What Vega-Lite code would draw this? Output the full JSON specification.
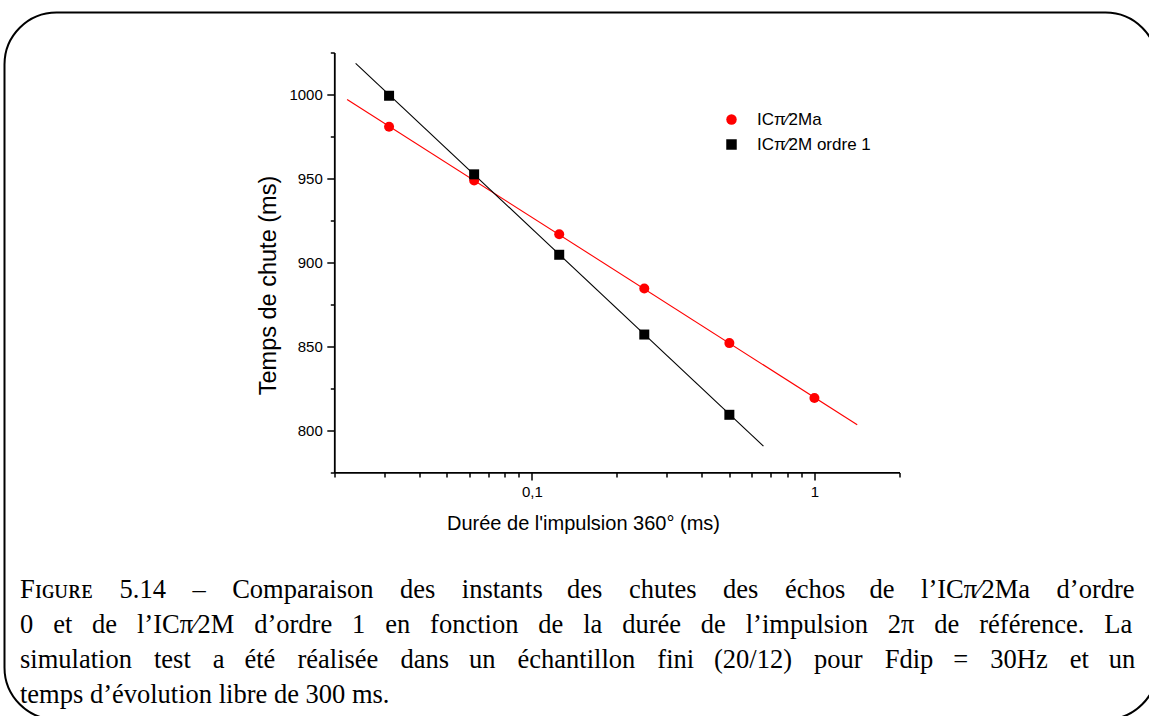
{
  "$schema": "https://vega.github.io/schema/vega-lite/v6.json",
  "width": 1153,
  "height": 707,
  "autosize": {"type": "none"},
  "padding": {"left": 4.5, "top": 12.5, "right": -8.5, "bottom": -3.5},
  "background": "white",
  "config": {
    "view": {"stroke": "black", "strokeWidth": 2, "cornerRadius": 52, "fill": "white"},
    "font": "Liberation Sans",
    "axis": {
      "grid": false,
      "domainColor": "black",
      "tickColor": "black",
      "labelColor": "black",
      "titleColor": "black",
      "labelFont": "Liberation Sans",
      "titleFont": "Liberation Sans",
      "titleFontWeight": "normal",
      "labelFontSize": 15,
      "domainWidth": 1.8,
      "tickWidth": 1.5
    },
    "legend": {
      "labelFont": "Liberation Sans",
      "labelFontSize": 17,
      "labelColor": "black"
    }
  },
  "title": {
    "text": [
      "Fɪɢᴜʀᴇ\u20035.14\u2003–\u2003Comparaison\u2003des\u2003instants\u2002 \u2006des\u2003chutes\u2003des\u2003échos\u2002 \u2006de\u2003l’ICπ⁄2Ma\u2003d’ordre",
      "0\u2002 et\u2002 de\u2002 l’ICπ⁄2M\u2002 d’ordre\u2002 1\u2002 en\u2002 fonction\u2002 de\u2002 la\u2002 durée\u2002 de\u2002 l’impulsion\u2002 2π\u2002 de\u2002 référence.\u2002 La",
      "simulation\u2002\u2004test\u2002\u2004a\u2002 été\u2002\u2004réalisée\u2002\u2004dans\u2002 un\u2002\u2004échantillon\u2002\u2004fini\u2002 (20/12)\u2002\u2004pour\u2002\u2004Fdip\u2002 =\u2002\u200430Hz\u2002\u2004et\u2002 un",
      "temps d’évolution libre de 300 ms."
    ],
    "orient": "top",
    "anchor": "start",
    "frame": "group",
    "align": "left",
    "baseline": "alphabetic",
    "offset": -716.5,
    "dx": 15.5,
    "lineHeight": 35,
    "font": "Liberation Serif",
    "fontSize": 26.5,
    "fontWeight": "normal",
    "color": "black"
  },
  "data": {
    "values": [
      {"kind": "pt", "serie": "ICπ⁄2Ma", "x": 0.03125, "y": 980.8},
      {"kind": "pt", "serie": "ICπ⁄2Ma", "x": 0.0625, "y": 948.9},
      {"kind": "pt", "serie": "ICπ⁄2Ma", "x": 0.125, "y": 916.8},
      {"kind": "pt", "serie": "ICπ⁄2Ma", "x": 0.25, "y": 884.5},
      {"kind": "pt", "serie": "ICπ⁄2Ma", "x": 0.5, "y": 852.0},
      {"kind": "pt", "serie": "ICπ⁄2Ma", "x": 1.0, "y": 819.3},
      {"kind": "pt", "serie": "ICπ⁄2M ordre 1", "x": 0.03125, "y": 999.3},
      {"kind": "pt", "serie": "ICπ⁄2M ordre 1", "x": 0.0625, "y": 952.5},
      {"kind": "pt", "serie": "ICπ⁄2M ordre 1", "x": 0.125, "y": 904.6},
      {"kind": "pt", "serie": "ICπ⁄2M ordre 1", "x": 0.25, "y": 857.1},
      {"kind": "pt", "serie": "ICπ⁄2M ordre 1", "x": 0.5, "y": 809.3},
      {"kind": "fit", "serie": "ICπ⁄2Ma", "x": 0.0222, "y": 997.1},
      {"kind": "fit", "serie": "ICπ⁄2Ma", "x": 1.417, "y": 803.4},
      {"kind": "fit", "serie": "ICπ⁄2M ordre 1", "x": 0.0238, "y": 1018.6},
      {"kind": "fit", "serie": "ICπ⁄2M ordre 1", "x": 0.66, "y": 790.7}
    ]
  },
  "layer": [
    {
      "transform": [{"filter": "datum.kind == 'fit' && datum.serie == 'ICπ⁄2Ma'"}],
      "mark": {"type": "line", "strokeWidth": 1.1, "clip": false, "color": "#ff0000"},
      "encoding": {
        "x": {
          "field": "x", "type": "quantitative",
          "scale": {"type": "log", "domain": [0.02, 2], "range": [329.8, 895], "nice": false},
          "axis": {
            "orient": "bottom", "offset": -247.1, "domain": false, "labels": false, "title": null,
            "values": [0.02, 0.03, 0.04, 0.05, 0.06, 0.07, 0.08, 0.09, 0.2, 0.3, 0.4, 0.5, 0.6, 0.7, 0.8, 0.9, 2],
            "tickSize": 4.5
          }
        },
        "y": {
          "field": "y", "type": "quantitative",
          "scale": {"domain": [775, 1025], "range": [459.9, 40.1], "nice": false, "zero": false},
          "axis": {
            "orient": "left", "offset": -329.8, "domain": false, "labels": false, "title": null,
            "values": [775, 825, 875, 925, 975, 1025],
            "tickSize": 4
          }
        }
      }
    },
    {
      "transform": [{"filter": "datum.kind == 'fit' && datum.serie == 'ICπ⁄2M ordre 1'"}],
      "mark": {"type": "line", "strokeWidth": 1.1, "clip": false, "color": "#000000"},
      "encoding": {
        "x": {"field": "x", "type": "quantitative", "axis": null},
        "y": {"field": "y", "type": "quantitative", "axis": null}
      }
    },
    {
      "transform": [{"filter": "datum.kind == 'pt'"}],
      "mark": {"type": "point", "filled": true, "opacity": 1, "size": 100, "clip": false},
      "encoding": {
        "x": {
          "field": "x", "type": "quantitative",
          "axis": {
            "orient": "bottom", "offset": -247.1,
            "values": [0.1, 1],
            "labelExpr": "datum.value < 0.5 ? '0,1' : '1'",
            "tickSize": 7.5,
            "labelPadding": 5,
            "title": "Durée de l'impulsion 360° (ms)",
            "titleFontSize": 20,
            "titleX": 578.5,
            "titleY": 51.5,
            "titleAnchor": "middle",
            "titleAlign": "center",
            "titleBaseline": "middle"
          }
        },
        "y": {
          "field": "y", "type": "quantitative",
          "axis": {
            "orient": "left", "offset": -329.8,
            "values": [800, 850, 900, 950, 1000],
            "format": "d",
            "tickSize": 7.5,
            "labelPadding": 4.5,
            "title": "Temps de chute (ms)",
            "titleFontSize": 23.5,
            "titleAngle": -90,
            "titleX": -66,
            "titleY": 272.5,
            "titleAlign": "center",
            "titleBaseline": "middle"
          }
        },
        "color": {
          "field": "serie", "type": "nominal",
          "scale": {"domain": ["ICπ⁄2Ma", "ICπ⁄2M ordre 1"], "range": ["#ff0000", "#000000"]},
          "legend": {"title": null, "orient": "none", "legendX": 718.5, "legendY": 98.5, "padding": 0, "symbolSize": 110, "symbolStrokeWidth": 0, "labelOffset": 17, "rowPadding": 7}
        },
        "shape": {
          "field": "serie", "type": "nominal",
          "scale": {"domain": ["ICπ⁄2Ma", "ICπ⁄2M ordre 1"], "range": ["circle", "square"]},
          "legend": {"title": null, "orient": "none", "legendX": 718.5, "legendY": 98.5, "padding": 0, "symbolSize": 110, "symbolStrokeWidth": 0, "labelOffset": 17, "rowPadding": 7}
        }
      }
    }
  ],
  "resolve": {"axis": {"x": "independent", "y": "independent"}}
}
